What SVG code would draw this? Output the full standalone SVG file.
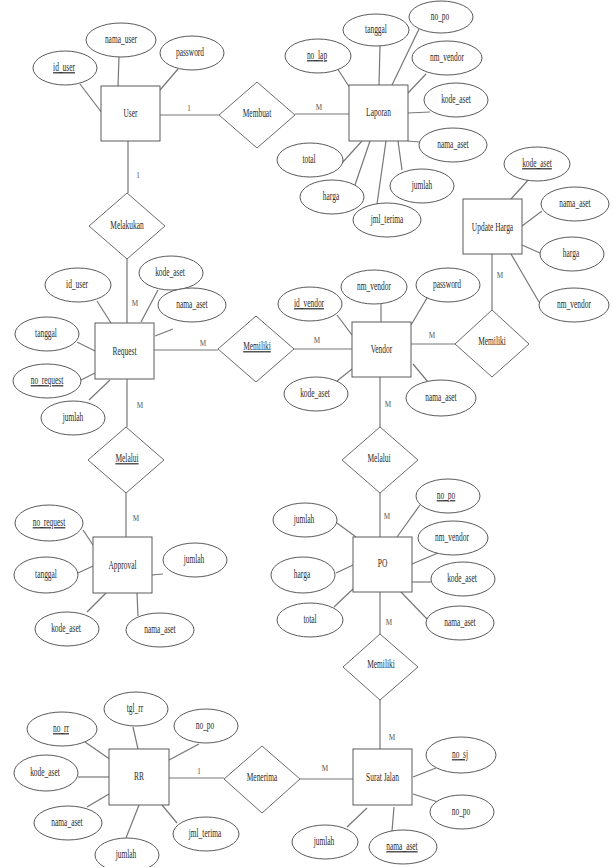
<svg xmlns="http://www.w3.org/2000/svg" width="613" height="867" viewBox="0 0 613 867">
<style>
rect.e{fill:#fff;stroke:#5a5a5a;stroke-width:1}
polygon.r{fill:#fff;stroke:#6a6a6a;stroke-width:1}
ellipse.a{fill:#fff;stroke:#5a5a5a;stroke-width:1}
#connectors line{stroke:#777;stroke-width:1.2}
text{font-family:"Liberation Serif","Times New Roman",serif;font-size:12px;fill:#2a2a2a;text-anchor:middle}
text.u{text-decoration:underline}
text.c{font-size:9px;fill:#555}
</style>
<rect width="613" height="867" fill="#fff"/>
<g id="connectors">
<line x1="160" y1="115" x2="219" y2="115"/>
<line x1="295" y1="114" x2="349" y2="114"/>
<line x1="128" y1="141" x2="128" y2="193"/>
<line x1="127" y1="259" x2="127" y2="323"/>
<line x1="154" y1="350" x2="218" y2="350"/>
<line x1="294" y1="349" x2="352" y2="349"/>
<line x1="411" y1="344" x2="455" y2="344"/>
<line x1="492" y1="310" x2="492" y2="254"/>
<line x1="127" y1="379" x2="127" y2="427"/>
<line x1="126" y1="493" x2="126" y2="537"/>
<line x1="380" y1="377" x2="380" y2="427"/>
<line x1="380" y1="493" x2="380" y2="537"/>
<line x1="380" y1="592" x2="380" y2="634"/>
<line x1="380" y1="700" x2="380" y2="749"/>
<line x1="169" y1="778" x2="224" y2="778"/>
<line x1="300" y1="779" x2="353" y2="779"/>
<!-- User attributes -->
<line x1="80" y1="84" x2="102" y2="113"/>
<line x1="119" y1="57" x2="118" y2="86"/>
<line x1="178" y1="69" x2="160" y2="90"/>
<!-- Laporan attributes -->
<line x1="337" y1="68" x2="350" y2="88"/>
<line x1="380" y1="45" x2="379" y2="85"/>
<line x1="419" y1="29" x2="392" y2="85"/>
<line x1="426" y1="74" x2="408" y2="93"/>
<line x1="430" y1="112" x2="408" y2="113"/>
<line x1="420" y1="142" x2="408" y2="141"/>
<line x1="402" y1="170" x2="398" y2="141"/>
<line x1="377" y1="204" x2="386" y2="141"/>
<line x1="355" y1="185" x2="370" y2="141"/>
<line x1="342" y1="163" x2="362" y2="141"/>
<!-- Update Harga attributes -->
<line x1="530" y1="178" x2="511" y2="199"/>
<line x1="542" y1="211" x2="522" y2="226"/>
<line x1="522" y1="245" x2="540" y2="253"/>
<line x1="511" y1="254" x2="539" y2="302"/>
<!-- Request attributes -->
<line x1="97" y1="301" x2="111" y2="323"/>
<line x1="158" y1="290" x2="141" y2="322"/>
<line x1="173" y1="329" x2="155" y2="336"/>
<line x1="77" y1="342" x2="95" y2="351"/>
<line x1="81" y1="380" x2="95" y2="373"/>
<line x1="89" y1="400" x2="110" y2="380"/>
<!-- Vendor attributes -->
<line x1="337" y1="315" x2="352" y2="335"/>
<line x1="381" y1="304" x2="381" y2="322"/>
<line x1="427" y1="298" x2="411" y2="325"/>
<line x1="337" y1="381" x2="352" y2="369"/>
<line x1="413" y1="364" x2="428" y2="382"/>
<!-- Approval attributes -->
<line x1="83" y1="530" x2="93" y2="545"/>
<line x1="78" y1="573" x2="93" y2="566"/>
<line x1="163" y1="574" x2="152" y2="575"/>
<line x1="87" y1="612" x2="106" y2="593"/>
<line x1="138" y1="616" x2="137" y2="593"/>
<!-- PO attributes -->
<line x1="420" y1="505" x2="397" y2="537"/>
<line x1="438" y1="553" x2="412" y2="564"/>
<line x1="431" y1="582" x2="412" y2="582"/>
<line x1="427" y1="619" x2="401" y2="592"/>
<line x1="337" y1="523" x2="356" y2="537"/>
<line x1="336" y1="573" x2="353" y2="565"/>
<line x1="334" y1="607" x2="353" y2="589"/>
<!-- RR attributes -->
<line x1="133" y1="727" x2="138" y2="749"/>
<line x1="85" y1="742" x2="111" y2="760"/>
<line x1="199" y1="744" x2="169" y2="760"/>
<line x1="78" y1="777" x2="109" y2="777"/>
<line x1="87" y1="807" x2="109" y2="794"/>
<line x1="126" y1="838" x2="139" y2="805"/>
<line x1="177" y1="823" x2="162" y2="805"/>
<!-- Surat Jalan attributes -->
<line x1="436" y1="768" x2="413" y2="777"/>
<line x1="438" y1="802" x2="413" y2="794"/>
<line x1="347" y1="827" x2="367" y2="808"/>
<line x1="392" y1="831" x2="394" y2="807"/>
<!-- cardinalities -->
<text class="c" transform="translate(189,111) scale(.8,1)">1</text>
<text class="c" transform="translate(138,178) scale(.8,1)">1</text>
<text class="c" transform="translate(319,110) scale(.8,1)">M</text>
<text class="c" transform="translate(135,306) scale(.8,1)">M</text>
<text class="c" transform="translate(203,346) scale(.8,1)">M</text>
<text class="c" transform="translate(317,343) scale(.8,1)">M</text>
<text class="c" transform="translate(432,338) scale(.8,1)">M</text>
<text class="c" transform="translate(500,278) scale(.8,1)">M</text>
<text class="c" transform="translate(140,408) scale(.8,1)">M</text>
<text class="c" transform="translate(388,407) scale(.8,1)">M</text>
<text class="c" transform="translate(136,521) scale(.8,1)">M</text>
<text class="c" transform="translate(387,519) scale(.8,1)">M</text>
<text class="c" transform="translate(389,625) scale(.8,1)">M</text>
<text class="c" transform="translate(392,740) scale(.8,1)">M</text>
<text class="c" transform="translate(199,774) scale(.8,1)">1</text>
<text class="c" transform="translate(325,771) scale(.8,1)">M</text>
</g>

<!-- Entities -->
<g id="user"><rect class="e" x="101" y="86" width="59" height="55"/><text transform="translate(130.5,117) scale(.62,1)">User</text></g>
<g id="laporan"><rect class="e" x="349" y="85" width="59" height="56"/><text transform="translate(378.5,116) scale(.62,1)">Laporan</text></g>
<g id="update-harga"><rect class="e" x="463" y="199" width="59" height="55"/><text transform="translate(492.5,231) scale(.62,1)">Update Harga</text></g>
<g id="request"><rect class="e" x="95" y="323" width="59" height="56"/><text transform="translate(124.5,355) scale(.62,1)">Request</text></g>
<g id="vendor"><rect class="e" x="352" y="322" width="59" height="55"/><text transform="translate(381.5,353) scale(.62,1)">Vendor</text></g>
<g id="approval"><rect class="e" x="93" y="537" width="59" height="56"/><text transform="translate(122.5,569) scale(.62,1)">Approval</text></g>
<g id="po"><rect class="e" x="353" y="537" width="59" height="55"/><text transform="translate(382.5,567) scale(.62,1)">PO</text></g>
<g id="rr"><rect class="e" x="109" y="749" width="60" height="56"/><text transform="translate(139,780) scale(.62,1)">RR</text></g>
<g id="surat-jalan"><rect class="e" x="353" y="749" width="59" height="56"/><text transform="translate(382.5,781) scale(.62,1)">Surat Jalan</text></g>

<!-- Relationships -->
<g id="rel-membuat"><polygon class="r" points="219,115 257,82 295,115 257,148"/><text transform="translate(257,117) scale(.62,1)">Membuat</text></g>
<g id="rel-melakukan"><polygon class="r" points="89,226 127,193 165,226 127,259"/><text transform="translate(127,229) scale(.62,1)">Melakukan</text></g>
<g id="rel-memiliki-rv"><polygon class="r" points="218,349 256,316 294,349 256,382"/><text class="u" transform="translate(257,350) scale(.62,1)">Memiliki</text></g>
<g id="rel-memiliki-vu"><polygon class="r" points="455,344 492,310 529,344 492,377"/><text transform="translate(492,345) scale(.62,1)">Memiliki</text></g>
<g id="rel-melalui-ra"><polygon class="r" points="88,460 126,427 164,460 126,493"/><text class="u" transform="translate(127,462) scale(.62,1)">Melalui</text></g>
<g id="rel-melalui-vp"><polygon class="r" points="342,460 380,427 418,460 380,493"/><text transform="translate(379,462) scale(.62,1)">Melalui</text></g>
<g id="rel-memiliki-ps"><polygon class="r" points="343,667 380,634 418,667 380,700"/><text transform="translate(381,668) scale(.62,1)">Memiliki</text></g>
<g id="rel-menerima"><polygon class="r" points="224,779 262,746 300,779 262,813"/><text transform="translate(262,781) scale(.62,1)">Menerima</text></g>

<!-- Attributes: User -->
<g id="attr-user-id_user"><ellipse class="a" cx="65" cy="68" rx="32" ry="17"/><text class="u" transform="translate(64,71) scale(.62,1)">id_user</text></g>
<g id="attr-user-nama_user"><ellipse class="a" cx="121" cy="40" rx="35" ry="17"/><text transform="translate(121,43) scale(.62,1)">nama_user</text></g>
<g id="attr-user-password"><ellipse class="a" cx="192" cy="53" rx="32" ry="17"/><text transform="translate(190,56) scale(.62,1)">password</text></g>
<!-- Laporan -->
<g id="attr-lap-no_lap"><ellipse class="a" cx="318" cy="56" rx="33" ry="17"/><text class="u" transform="translate(317,59) scale(.62,1)">no_lap</text></g>
<g id="attr-lap-tanggal"><ellipse class="a" cx="376" cy="30" rx="33" ry="16"/><text transform="translate(376,33) scale(.62,1)">tanggal</text></g>
<g id="attr-lap-no_po"><ellipse class="a" cx="441" cy="17" rx="32" ry="16"/><text transform="translate(440,20) scale(.62,1)">no_po</text></g>
<g id="attr-lap-nm_vendor"><ellipse class="a" cx="447" cy="58" rx="35" ry="17"/><text transform="translate(447,61) scale(.62,1)">nm_vendor</text></g>
<g id="attr-lap-kode_aset"><ellipse class="a" cx="456" cy="100" rx="32" ry="17"/><text transform="translate(456,103) scale(.62,1)">kode_aset</text></g>
<g id="attr-lap-nama_aset"><ellipse class="a" cx="453" cy="145" rx="34" ry="17"/><text transform="translate(453,148) scale(.62,1)">nama_aset</text></g>
<g id="attr-lap-jumlah"><ellipse class="a" cx="422" cy="186" rx="32" ry="17"/><text transform="translate(422,189) scale(.62,1)">jumlah</text></g>
<g id="attr-lap-jml_terima"><ellipse class="a" cx="387" cy="220" rx="34" ry="17"/><text transform="translate(387,223) scale(.62,1)">jml_terima</text></g>
<g id="attr-lap-harga"><ellipse class="a" cx="332" cy="197" rx="32" ry="17"/><text transform="translate(331,200) scale(.62,1)">harga</text></g>
<g id="attr-lap-total"><ellipse class="a" cx="310" cy="160" rx="33" ry="17"/><text transform="translate(309,163) scale(.62,1)">total</text></g>
<!-- Update Harga -->
<g id="attr-uh-kode_aset"><ellipse class="a" cx="537" cy="164" rx="33" ry="17"/><text class="u" transform="translate(537,167) scale(.62,1)">kode_aset</text></g>
<g id="attr-uh-nama_aset"><ellipse class="a" cx="575" cy="204" rx="34" ry="17"/><text transform="translate(575,207) scale(.62,1)">nama_aset</text></g>
<g id="attr-uh-harga"><ellipse class="a" cx="572" cy="254" rx="32" ry="17"/><text transform="translate(571,257) scale(.62,1)">harga</text></g>
<g id="attr-uh-nm_vendor"><ellipse class="a" cx="574" cy="305" rx="35" ry="17"/><text transform="translate(574,308) scale(.62,1)">nm_vendor</text></g>
<!-- Request -->
<g id="attr-req-id_user"><ellipse class="a" cx="78" cy="285" rx="33" ry="17"/><text transform="translate(77,288) scale(.62,1)">id_user</text></g>
<g id="attr-req-kode_aset"><ellipse class="a" cx="171" cy="273" rx="32" ry="17"/><text transform="translate(170,276) scale(.62,1)">kode_aset</text></g>
<g id="attr-req-nama_aset"><ellipse class="a" cx="192" cy="305" rx="34" ry="17"/><text transform="translate(192,308) scale(.62,1)">nama_aset</text></g>
<g id="attr-req-tanggal"><ellipse class="a" cx="47" cy="334" rx="32" ry="17"/><text transform="translate(46,337) scale(.62,1)">tanggal</text></g>
<g id="attr-req-no_request"><ellipse class="a" cx="47" cy="381" rx="34" ry="17"/><text class="u" transform="translate(47,384) scale(.62,1)">no_request</text></g>
<g id="attr-req-jumlah"><ellipse class="a" cx="73" cy="418" rx="32" ry="17"/><text transform="translate(73,421) scale(.62,1)">jumlah</text></g>
<!-- Vendor -->
<g id="attr-ven-id_vendor"><ellipse class="a" cx="310" cy="304" rx="32" ry="17"/><text class="u" transform="translate(309,307) scale(.62,1)">id_vendor</text></g>
<g id="attr-ven-nm_vendor"><ellipse class="a" cx="374" cy="287" rx="33" ry="17"/><text transform="translate(374,290) scale(.62,1)">nm_vendor</text></g>
<g id="attr-ven-password"><ellipse class="a" cx="448" cy="285" rx="32" ry="17"/><text transform="translate(447,288) scale(.62,1)">password</text></g>
<g id="attr-ven-kode_aset"><ellipse class="a" cx="316" cy="394" rx="32" ry="17"/><text transform="translate(315,397) scale(.62,1)">kode_aset</text></g>
<g id="attr-ven-nama_aset"><ellipse class="a" cx="441" cy="398" rx="35" ry="18"/><text transform="translate(441,401) scale(.62,1)">nama_aset</text></g>
<!-- Approval -->
<g id="attr-app-no_request"><ellipse class="a" cx="49" cy="523" rx="34" ry="18"/><text class="u" transform="translate(49,526) scale(.62,1)">no_request</text></g>
<g id="attr-app-tanggal"><ellipse class="a" cx="46" cy="575" rx="32" ry="18"/><text transform="translate(46,578) scale(.62,1)">tanggal</text></g>
<g id="attr-app-jumlah"><ellipse class="a" cx="195" cy="560" rx="32" ry="17"/><text transform="translate(194,563) scale(.62,1)">jumlah</text></g>
<g id="attr-app-kode_aset"><ellipse class="a" cx="67" cy="629" rx="32" ry="17"/><text transform="translate(66,632) scale(.62,1)">kode_aset</text></g>
<g id="attr-app-nama_aset"><ellipse class="a" cx="160" cy="630" rx="34" ry="17"/><text transform="translate(160,633) scale(.62,1)">nama_aset</text></g>
<!-- PO -->
<g id="attr-po-no_po"><ellipse class="a" cx="448" cy="496" rx="32" ry="17"/><text class="u" transform="translate(446,499) scale(.62,1)">no_po</text></g>
<g id="attr-po-nm_vendor"><ellipse class="a" cx="453" cy="538" rx="35" ry="17"/><text transform="translate(452,541) scale(.62,1)">nm_vendor</text></g>
<g id="attr-po-kode_aset"><ellipse class="a" cx="463" cy="579" rx="32" ry="17"/><text transform="translate(462,582) scale(.62,1)">kode_aset</text></g>
<g id="attr-po-nama_aset"><ellipse class="a" cx="460" cy="623" rx="34" ry="17"/><text transform="translate(460,626) scale(.62,1)">nama_aset</text></g>
<g id="attr-po-jumlah"><ellipse class="a" cx="305" cy="520" rx="32" ry="17"/><text transform="translate(304,523) scale(.62,1)">jumlah</text></g>
<g id="attr-po-harga"><ellipse class="a" cx="303" cy="575" rx="32" ry="18"/><text transform="translate(302,578) scale(.62,1)">harga</text></g>
<g id="attr-po-total"><ellipse class="a" cx="310" cy="620" rx="33" ry="17"/><text transform="translate(310,623) scale(.62,1)">total</text></g>
<!-- RR -->
<g id="attr-rr-tgl_rr"><ellipse class="a" cx="136" cy="709" rx="32" ry="17"/><text transform="translate(135,712) scale(.62,1)">tgl_rr</text></g>
<g id="attr-rr-no_rr"><ellipse class="a" cx="62" cy="729" rx="35" ry="17"/><text class="u" transform="translate(61,732) scale(.62,1)">no_rr</text></g>
<g id="attr-rr-no_po"><ellipse class="a" cx="206" cy="726" rx="32" ry="17"/><text transform="translate(205,729) scale(.62,1)">no_po</text></g>
<g id="attr-rr-kode_aset"><ellipse class="a" cx="46" cy="773" rx="32" ry="18"/><text transform="translate(45,776) scale(.62,1)">kode_aset</text></g>
<g id="attr-rr-nama_aset"><ellipse class="a" cx="68" cy="823" rx="34" ry="17"/><text transform="translate(67,826) scale(.62,1)">nama_aset</text></g>
<g id="attr-rr-jumlah"><ellipse class="a" cx="127" cy="855" rx="32" ry="17"/><text transform="translate(126,858) scale(.62,1)">jumlah</text></g>
<g id="attr-rr-jml_terima"><ellipse class="a" cx="206" cy="834" rx="33" ry="17"/><text transform="translate(205,837) scale(.62,1)">jml_terima</text></g>
<!-- Surat Jalan -->
<g id="attr-sj-no_sj"><ellipse class="a" cx="461" cy="755" rx="35" ry="18"/><text class="u" transform="translate(460,758) scale(.62,1)">no_sj</text></g>
<g id="attr-sj-no_po"><ellipse class="a" cx="462" cy="812" rx="32" ry="17"/><text transform="translate(461,815) scale(.62,1)">no_po</text></g>
<g id="attr-sj-jumlah"><ellipse class="a" cx="325" cy="842" rx="33" ry="17"/><text transform="translate(324,845) scale(.62,1)">jumlah</text></g>
<g id="attr-sj-nama_aset"><ellipse class="a" cx="403" cy="847" rx="34" ry="17"/><text class="u" transform="translate(402,850) scale(.62,1)">nama_aset</text></g>
</svg>
